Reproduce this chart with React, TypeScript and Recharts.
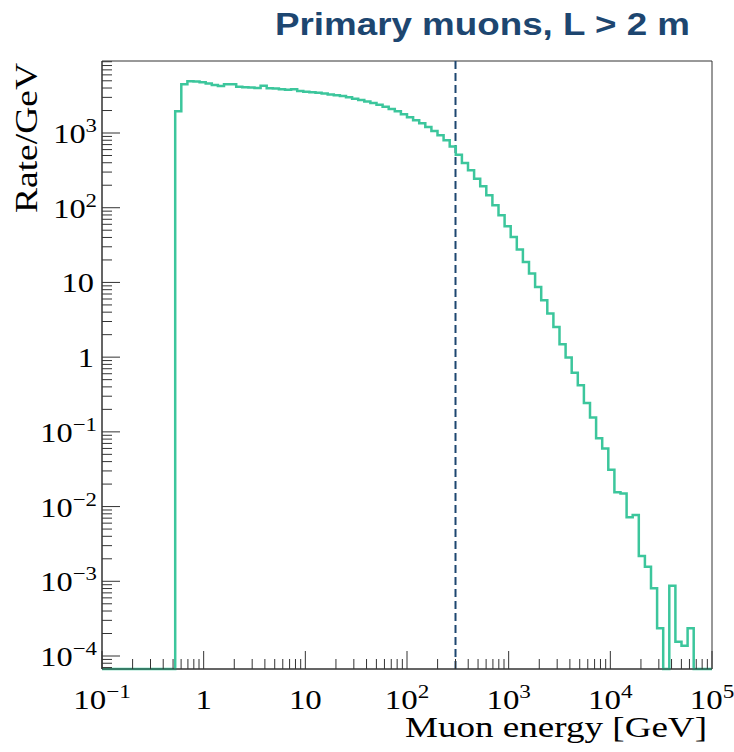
import React from 'react';
import { LineChart, Line, XAxis, YAxis, ReferenceLine, ReferenceArea } from 'recharts';

// binning: 100 log-spaced bins from 0.1 GeV to 100 TeV
const E_MIN = 0.1;
const E_MAX = 1e5;
const N_BINS = 100;

const Y_MIN = 6.7e-5;
const Y_MAX = 9200;

const CUT_ENERGY = 300; // dashed marker [GeV]

// rate per GeV in each bin (0 = empty bin)
const rates = [
  0, 0, 0, 0, 0, 0, 0, 0, 0, 0, 0, 0,
  1950, 4480, 4920, 4900, 4770, 4600, 4400, 4250, 4480, 4480,
  4150, 4100, 4050, 4000, 4300, 3980, 3950, 3850, 3780, 3850,
  3650, 3580, 3520, 3450, 3370, 3280, 3200, 3120, 3000, 2880,
  2760, 2650, 2520, 2390, 2250, 2100, 1950, 1780, 1620, 1480,
  1350, 1200, 1060, 930, 800, 660, 510, 397, 317, 245,
  194, 147, 108, 79, 56.5, 40.6, 27.5, 18.8, 13.2, 8.7,
  5.78, 3.84, 2.54, 1.49, 0.99, 0.62, 0.42, 0.244, 0.156, 0.082,
  0.06, 0.031, 0.0155, 0.015, 0.0072, 0.0077, 0.00218, 0.00157, 0.000805, 0.000235,
  0, 0.00087, 0.000155, 0.000137, 0.000235, 0, 0, 0,
];

const xDecades = [0.1, 1, 10, 100, 1e3, 1e4, 1e5];
const yDecades = [1e-5, 1e-4, 1e-3, 1e-2, 0.1, 1, 10, 100, 1e3, 1e4];

const FONT = '"Liberation Serif", "Times New Roman", serif';
const INK = '#333';
const GREEN = '#3cc69c';
const NAVY = '#1d4670';

// bin edges, one point per edge, last edge repeats the last bin
const edges = Array.from({ length: N_BINS + 1 }, (_, i) =>
  i === N_BINS ? E_MAX : E_MIN * Math.pow(E_MAX / E_MIN, i / N_BINS)
);
const histo = edges.map((e, i) => {
  const r = rates[Math.min(i, N_BINS - 1)];
  return { e, rate: r > 0 ? r : Y_MIN };
});

// major + minor (2..9) ticks inside a range
function logTicks(decades: number[], lo: number, hi: number) {
  const out: number[] = [];
  decades.forEach((d) => {
    for (let m = 1; m <= 9; m++) {
      const v = +(m * d).toPrecision(6);
      if (v >= lo && v <= hi) out.push(v);
    }
  });
  return out;
}
const xTicks = logTicks(xDecades, E_MIN, E_MAX);
const yTicks = logTicks(yDecades, Y_MIN, Y_MAX);

function isMajor(v: number) {
  const l = Math.log10(v);
  return Math.abs(l - Math.round(l)) < 1e-6;
}

function powerLabel(exp: number, anchor: string) {
  return (
    <text textAnchor={anchor} fontFamily={FONT} fontSize={27} fill="#000">
      {exp === 0 ? '1' : exp === 1 ? '10' : (
        <>
          <tspan>10</tspan>
          <tspan dy={-11} fontSize={19}>{exp < 0 ? `\u2212${-exp}` : `${exp}`}</tspan>
        </>
      )}
    </text>
  );
}

function XTick(props: any) {
  const { x, y, payload } = props;
  const major = isMajor(payload.value);
  const exp = Math.round(Math.log10(payload.value));
  return (
    <g>
      <line x1={x} x2={x} y1={y} y2={y - (major ? 18 : 10)} stroke={INK} strokeWidth={1} />
      {major && (
        <g transform={`translate(${x},${y + 40}) scale(1.22,1)`}>{powerLabel(exp, 'middle')}</g>
      )}
    </g>
  );
}

function YTick(props: any) {
  const { x, y, payload } = props;
  const major = isMajor(payload.value);
  const exp = Math.round(Math.log10(payload.value));
  const plain = exp === 0 || exp === 1;
  return (
    <g>
      <line x1={x} x2={x + (major ? 18 : 10)} y1={y} y2={y} stroke={INK} strokeWidth={1} />
      {major && (
        <g transform={`translate(${x - (plain ? 8 : 5)},${y + 10}) scale(1.2,1)`}>{powerLabel(exp, 'end')}</g>
      )}
    </g>
  );
}

export default function App() {
  return (
    <div style={{ position: 'absolute', left: 0, top: 0, width: 734, height: 752, background: '#fff' }}>
      <LineChart
        width={734}
        height={752}
        data={histo}
        margin={{ top: 61, right: 22, left: 101, bottom: 82 }}
      >
        <XAxis
          dataKey="e"
          type="number"
          scale="log"
          domain={[E_MIN, E_MAX]}
          ticks={xTicks}
          interval={0}
          height={1}
          tickSize={0}
          tickMargin={0}
          tickLine={false}
          axisLine={{ stroke: INK }}
          tick={(p: any) => <XTick {...p} />}
        />
        <YAxis
          type="number"
          scale="log"
          domain={[Y_MIN, Y_MAX]}
          ticks={yTicks}
          interval={0}
          width={1}
          tickSize={0}
          tickMargin={0}
          tickLine={false}
          axisLine={{ stroke: INK }}
          tick={(p: any) => <YTick {...p} />}
        />
        <ReferenceArea x1={E_MIN} x2={E_MAX} y1={Y_MIN} y2={Y_MAX} fill="none" stroke={INK} strokeWidth={1} />
        <ReferenceLine x={CUT_ENERGY} stroke={NAVY} strokeWidth={2} strokeDasharray="8 4" />
        <Line
          type="stepAfter"
          dataKey="rate"
          stroke={GREEN}
          strokeWidth={2.5}
          dot={false}
          isAnimationActive={false}
        />
      </LineChart>
      <svg width={734} height={752} style={{ position: 'absolute', left: 0, top: 0, pointerEvents: 'none' }}>
        <text
          x={275}
          y={35}
          fontFamily='"Liberation Sans", Arial, sans-serif'
          fontWeight="bold"
          fontSize={31}
          fill={NAVY}
          textLength={415}
          lengthAdjust="spacingAndGlyphs"
        >
          Primary muons, L &gt; 2 m
        </text>
        <text x={405} y={737} fontFamily={FONT} fontSize={30} textLength={302} lengthAdjust="spacingAndGlyphs">
          Muon energy [GeV]
        </text>
        <text
          transform="translate(37,213) rotate(-90)"
          fontFamily={FONT}
          fontSize={32}
          textLength={150}
          lengthAdjust="spacingAndGlyphs"
        >
          Rate/GeV
        </text>
      </svg>
    </div>
  );
}
